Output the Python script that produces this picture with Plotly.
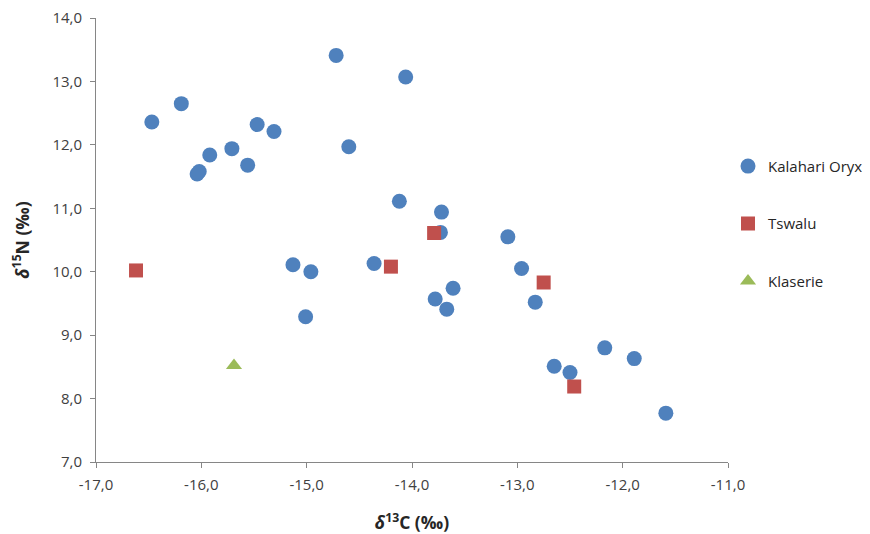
import plotly.graph_objects as go

# Kalahari Oryx
oryx_c = [-16.47, -16.19, -15.92, -16.04, -16.02, -15.71, -15.56, -15.47, -15.31,
          -14.72, -14.06, -14.60, -14.12, -13.72, -13.73, -15.13, -14.96, -15.01,
          -14.36, -13.78, -13.67, -13.61, -13.09, -12.96, -12.83, -12.65, -12.50,
          -12.17, -11.89, -11.59]
oryx_n = [12.36, 12.65, 11.84, 11.54, 11.58, 11.94, 11.68, 12.32, 12.21,
          13.41, 13.07, 11.97, 11.11, 10.94, 10.62, 10.11, 10.00, 9.29,
          10.13, 9.57, 9.41, 9.74, 10.55, 10.05, 9.52, 8.51, 8.41,
          8.80, 8.63, 7.77]
# Tswalu
tswalu_c = [-16.62, -14.20, -13.79, -12.75, -12.46]
tswalu_n = [10.02, 10.08, 10.61, 9.83, 8.19]
# Klaserie
klaserie_c = [-15.69]
klaserie_n = [8.52]

x_ticks = [-17, -16, -15, -14, -13, -12, -11]
x_labels = ["-17,0", "-16,0", "-15,0", "-14,0", "-13,0", "-12,0", "-11,0"]
y_ticks = [7, 8, 9, 10, 11, 12, 13, 14]
y_labels = ["7,0", "8,0", "9,0", "10,0", "11,0", "12,0", "13,0", "14,0"]

fig = go.Figure()
fig.add_trace(go.Scatter(x=oryx_c, y=oryx_n, mode="markers", name="Kalahari Oryx",
                         legendgroup="a",
                         marker=dict(symbol="circle", size=15, color="#4F81BD")))
fig.add_trace(go.Scatter(x=tswalu_c, y=tswalu_n, mode="markers", name="Tswalu",
                         legendgroup="b",
                         marker=dict(symbol="square", size=14, color="#C0504D")))
fig.add_trace(go.Scatter(x=klaserie_c, y=klaserie_n, mode="markers", name="Klaserie",
                         legendgroup="c",
                         marker=dict(symbol="triangle-up", size=14, color="#9BBB59")))

axis_common = dict(showgrid=False, zeroline=False, showline=True, linecolor="#868686",
                   linewidth=1, ticks="outside", ticklen=5, tickcolor="#868686",
                   ticklabeloverflow="allow",
                   tickfont=dict(family="Open Sans, Liberation Sans, sans-serif", size=15, color="#404040"))

fig.update_layout(
    width=862, height=526,
    margin=dict(l=88, r=142, t=10, b=72, autoexpand=False),
    paper_bgcolor="white", plot_bgcolor="white",
    font=dict(family="Open Sans, Liberation Sans, sans-serif", color="#262626"),
    xaxis=dict(range=[-17, -11], tickvals=x_ticks, ticktext=x_labels, ticklabelstandoff=4,
               title=dict(text="<b><i>δ</i><sup>13</sup>C (‰)</b>", font=dict(size=17.5), standoff=24),
               **axis_common),
    yaxis=dict(range=[7, 14], tickvals=y_ticks, ticktext=y_labels, ticklabelstandoff=5,
               title=dict(text="<b><i>δ</i><sup>15</sup>N (‰)</b>", font=dict(size=17.5), standoff=18),
               **axis_common),
    legend=dict(x=1.0, y=0.703, xanchor="left", yanchor="top",
                traceorder="grouped", tracegroupgap=35,
                font=dict(size=15, color="#262626"), itemwidth=30),
)

fig.write_html("out.html")
